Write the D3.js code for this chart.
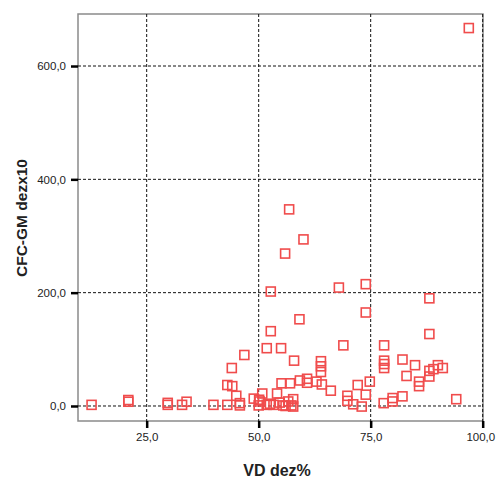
<!DOCTYPE html>
<html lang="en">
<head>
  <meta charset="UTF-8">
  <title>CFC-GM vs VD</title>
  <script src="https://d3js.org/d3.v7.min.js"></script>
  <style>
    body { margin: 0; background: #fff; }
    text { font-family: "Liberation Sans", Arial, sans-serif; }
  </style>
</head>
<body>
  <script>
    // 1. Data
    const vd = [
      12.7, 20.9, 20.9, 29.7, 29.7, 32.9, 33.9, 39.9, 43.0, 43.0,
      44.1, 44.0, 45.0, 45.8, 45.8, 46.8, 48.9, 50.0, 50.2, 50.8,
      51.8, 51.8, 52.7, 52.7, 53.3, 54.1, 54.7, 55.0, 55.1, 55.5,
      55.9, 56.6, 56.8, 57.0, 57.3, 57.7, 57.9, 59.1, 59.2, 60.0,
      60.8, 60.8, 62.9, 63.9, 63.9, 63.9, 64.1, 66.1, 67.9, 68.9,
      69.8, 69.8, 71.1, 72.1, 73.0, 73.9, 73.9, 73.9, 74.8, 78.0,
      78.0, 78.0, 78.0, 77.9, 79.9, 79.9, 82.1, 82.1, 83.0, 84.9,
      85.8, 85.8, 88.1, 88.1, 88.1, 88.1, 89.0, 90.0, 91.1, 94.1,
      96.9, 52.5, 56.0, 57.7, 50.1
    ];
    const cfc = [
      2, 10.5, 7.5, 5.5, 2, 2, 7.5, 2, 2, 37,
      35, 67, 18, 5, 1, 90, 13, 1, 8, 22,
      102, 2, 132, 202, 2, 22, 6, 102, 40, 1,
      269, 8, 347, 40, 1, 12, 80, 153, 45, 294,
      48, 41, 43, 79, 70, 60, 38, 27, 209, 107,
      18, 9, 3, 37, -1, 215, 165, 20, 43, 107,
      80, 74, 67, 5, 14, 8, 82, 17, 53, 72,
      43, 35, 190, 127, 62, 52, 65, 72, 67, 12,
      667, 4, 0, -1, 11
    ];
    const xTicks = [25, 50, 75, 100];
    const yTicks = [0, 200, 400, 600];

    const points = vd.map((v, i) => ({ x: v, y: cfc[i] }));

    // 2. SVG Canvas
    const width = 496, height = 480;
    const m = { left: 78, right: 483, top: 14, bottom: 421 };

    const svg = d3.select("body")
                  .append("svg")
                  .attr("width", width)
                  .attr("height", height);

    // 3. Scales
    const xScale = d3.scaleLinear()
                     .domain([9.67, 100.07])
                     .range([m.left, m.right]);

    const yScale = d3.scaleLinear()
                     .domain([-26.5, 691.8])
                     .range([m.bottom, m.top]);

    const fmt = d3.formatLocale({ decimal: ",", thousands: ".", grouping: [3], currency: ["", ""] })
                  .format(".1f");

    // 4. Frame
    svg.append("rect")
       .attr("x", m.left).attr("y", m.top)
       .attr("width", m.right - m.left).attr("height", m.bottom - m.top)
       .attr("fill", "#fff")
       .attr("stroke", "#8a8a8a")
       .attr("stroke-width", 1.5);

    // 5. Grid lines
    svg.append("g")
       .selectAll("line")
       .data(xTicks)
       .join("line")
       .attr("x1", d => xScale(d)).attr("x2", d => xScale(d))
       .attr("y1", m.top).attr("y2", m.bottom)
       .attr("stroke", "#111")
       .attr("stroke-dasharray", "3,2");

    svg.append("g")
       .selectAll("line")
       .data(yTicks)
       .join("line")
       .attr("x1", m.left).attr("x2", m.right)
       .attr("y1", d => yScale(d)).attr("y2", d => yScale(d))
       .attr("stroke", "#111")
       .attr("stroke-dasharray", "3,2");

    // 6. Axes
    const xAxis = svg.append("g")
       .attr("transform", `translate(0, ${m.bottom})`)
       .call(d3.axisBottom(xScale).tickValues(xTicks).tickFormat(fmt).tickSize(7).tickPadding(5));

    const yAxis = svg.append("g")
       .attr("transform", `translate(${m.left}, 0)`)
       .call(d3.axisLeft(yScale).tickValues(yTicks).tickFormat(fmt).tickSize(7).tickPadding(5));

    [xAxis, yAxis].forEach(a => {
      a.select(".domain").remove();
      a.selectAll(".tick line").attr("stroke", "#000").attr("stroke-width", 2.5);
      a.selectAll(".tick text")
       .attr("fill", "#222")
       .style("font-size", "11.5px");
    });

    // last x label sits at the window edge; keep it inside
    xAxis.selectAll(".tick text")
         .filter(d => d === 100)
         .attr("text-anchor", "end")
         .attr("dx", 12);

    // 7. Points
    const s = 9;
    svg.append("g")
       .selectAll("rect")
       .data(points)
       .join("rect")
       .attr("x", d => xScale(d.x) - s / 2)
       .attr("y", d => yScale(d.y) - s / 2)
       .attr("width", s)
       .attr("height", s)
       .attr("fill", "none")
       .attr("stroke", "#f04c4c")
       .attr("stroke-width", 1.6);

    // 8. Axis titles
    svg.append("text")
       .attr("x", 277)
       .attr("y", 476)
       .attr("text-anchor", "middle")
       .style("font-size", "16px")
       .style("font-weight", "bold")
       .attr("fill", "#222")
       .text("VD dez%");

    svg.append("text")
       .attr("transform", `translate(27, 218) rotate(-90)`)
       .attr("text-anchor", "middle")
       .style("font-size", "15.5px")
       .style("font-weight", "bold")
       .attr("fill", "#222")
       .text("CFC-GM dezx10");
  </script>
</body>
</html>
